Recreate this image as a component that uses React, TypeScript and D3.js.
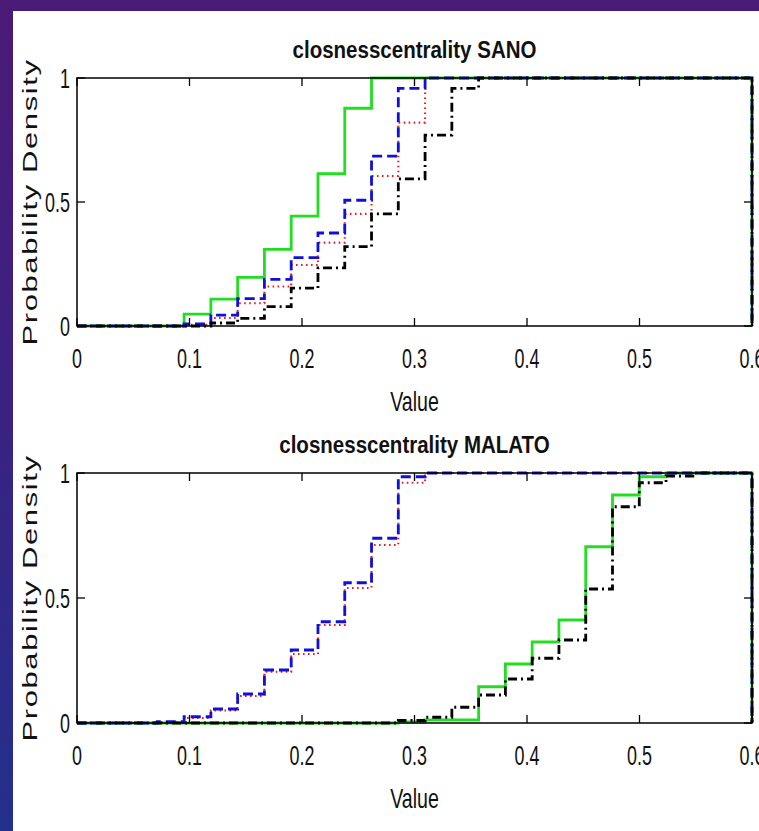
import React from "react";
import * as d3 from "d3";

// Histogram bin edges shared by every cumulative curve
const binEdges = [
  0, 0.0238, 0.0476, 0.0714, 0.0952, 0.119, 0.1428, 0.1666, 0.1904, 0.2142,
  0.238, 0.2618, 0.2856, 0.3094, 0.3332, 0.357, 0.3808, 0.4046, 0.4284,
  0.4522, 0.476, 0.4998, 0.5236, 0.5474, 0.5712, 0.6,
];

// SANO group: cumulative value per bin
const sanoGreen = [0, 0, 0, 0, 0.048, 0.108, 0.196, 0.309, 0.443, 0.614, 0.878, 1, 1, 1, 1, 1, 1, 1, 1, 1, 1, 1, 1, 1, 1];
const sanoBlue = [0, 0, 0, 0, 0.008, 0.044, 0.11, 0.188, 0.276, 0.375, 0.507, 0.685, 0.958, 1, 1, 1, 1, 1, 1, 1, 1, 1, 1, 1, 1];
const sanoRed = [0, 0, 0, 0, 0.005, 0.032, 0.092, 0.159, 0.246, 0.336, 0.452, 0.605, 0.82, 1, 1, 1, 1, 1, 1, 1, 1, 1, 1, 1, 1];
const sanoBlack = [0, 0, 0, 0, 0, 0.012, 0.031, 0.078, 0.153, 0.234, 0.32, 0.452, 0.593, 0.77, 0.958, 1, 1, 1, 1, 1, 1, 1, 1, 1, 1];

// MALATO group
const malatoGreen = [0, 0, 0, 0, 0, 0, 0, 0, 0, 0, 0, 0, 0.004, 0.012, 0.012, 0.145, 0.236, 0.324, 0.412, 0.705, 0.912, 0.985, 1, 1, 1];
const malatoBlue = [0, 0, 0, 0.005, 0.025, 0.056, 0.116, 0.212, 0.292, 0.405, 0.561, 0.739, 0.985, 1, 1, 1, 1, 1, 1, 1, 1, 1, 1, 1, 1];
const malatoRed = [0, 0, 0, 0.003, 0.02, 0.05, 0.108, 0.205, 0.276, 0.392, 0.54, 0.712, 0.961, 1, 1, 1, 1, 1, 1, 1, 1, 1, 1, 1, 1];
const malatoBlack = [0, 0, 0, 0, 0, 0, 0, 0, 0, 0, 0, 0, 0.01, 0.023, 0.063, 0.112, 0.176, 0.259, 0.332, 0.536, 0.865, 0.961, 0.988, 1, 1];

const xTicks = [0, 0.1, 0.2, 0.3, 0.4, 0.5, 0.6];
const xTickLabels = ["0", "0.1", "0.2", "0.3", "0.4", "0.5", "0.6"];
const yTicks = [0, 0.5, 1];
const yTickLabels = ["0", "0.5", "1"];

const panels = [
  { title: "closnesscentrality SANO", green: sanoGreen, blue: sanoBlue, red: sanoRed, black: sanoBlack, top: 78, bottom: 326 },
  { title: "closnesscentrality MALATO", green: malatoGreen, blue: malatoBlue, red: malatoRed, black: malatoBlack, top: 473, bottom: 723 },
];

const W = 759;
const H = 831;
const LEFT = 77;
const RIGHT = 752;
const FONT = "'Liberation Sans', Arial, Helvetica, sans-serif";

type Style = { color: string; dash: string | null; width: number };
const seriesStyles: { key: "green" | "red" | "blue" | "black"; style: Style }[] = [
  { key: "green", style: { color: "#22dd22", dash: null, width: 2.8 } },
  { key: "red", style: { color: "#e32020", dash: "1.6,3.4", width: 2.1 } },
  { key: "blue", style: { color: "#1010d8", dash: "10,5", width: 2.8 } },
  { key: "black", style: { color: "#000000", dash: "9,4,2,4", width: 2.8 } },
];

function SText(props: {
  x: number; y: number; sx: number; size: number; anchor: string; weight?: string; rotate?: number; children: string; spacing?: number;
}) {
  const { x, y, sx, size, anchor, weight, rotate, children, spacing } = props;
  const tr = `translate(${x},${y}) scale(${sx},1)` + (rotate ? ` rotate(${rotate})` : "");
  return (
    <text
      transform={tr}
      fontSize={size}
      fontFamily={FONT}
      fontWeight={weight || "normal"}
      textAnchor={anchor}
      fill="#111"
      letterSpacing={spacing || 0}
    >
      {children}
    </text>
  );
}

function Panel({ p }: { p: (typeof panels)[number] }) {
  const x = d3.scaleLinear().domain([0, 0.6]).range([LEFT, RIGHT]);
  const y = d3.scaleLinear().domain([0, 1]).range([p.bottom, p.top]);
  const line = d3
    .line<[number, number]>()
    .x((d) => x(d[0]))
    .y((d) => y(d[1]))
    .curve(d3.curveStepAfter);

  const pathFor = (vals: number[]) => {
    const pts: [number, number][] = vals.map((v, i) => [binEdges[i], v]);
    pts.push([binEdges[binEdges.length - 1], vals[vals.length - 1]]);
    pts.push([binEdges[binEdges.length - 1], 0]);
    return line(pts) || "";
  };

  const tickLen = 8;
  const cx = (LEFT + RIGHT) / 2;
  const cy = (p.top + p.bottom) / 2;

  return (
    <g>
      {seriesStyles.map((s) => (
        <path
          key={s.key}
          d={pathFor(p[s.key])}
          fill="none"
          stroke={s.style.color}
          strokeWidth={s.style.width}
          strokeDasharray={s.style.dash || undefined}
        />
      ))}
      <rect x={LEFT} y={p.top} width={RIGHT - LEFT} height={p.bottom - p.top} fill="none" stroke="#000" strokeWidth={1.5} />
      {xTicks.map((t, i) => (
        <g key={"x" + i}>
          <line x1={x(t)} x2={x(t)} y1={p.bottom} y2={p.bottom - tickLen} stroke="#000" strokeWidth={1.3} />
          <line x1={x(t)} x2={x(t)} y1={p.top} y2={p.top + tickLen} stroke="#000" strokeWidth={1.3} />
          <SText x={x(t)} y={p.bottom + 42} sx={0.64} size={28} anchor="middle">
            {xTickLabels[i]}
          </SText>
        </g>
      ))}
      {yTicks.map((t, i) => (
        <g key={"y" + i}>
          <line x1={LEFT} x2={LEFT + tickLen} y1={y(t)} y2={y(t)} stroke="#000" strokeWidth={1.3} />
          <line x1={RIGHT} x2={RIGHT - tickLen} y1={y(t)} y2={y(t)} stroke="#000" strokeWidth={1.3} />
          <SText x={70} y={y(t) + 10} sx={0.64} size={28} anchor="end">
            {yTickLabels[i]}
          </SText>
        </g>
      ))}
      <SText x={cx} y={p.top - 20} sx={0.855} size={24} anchor="middle" weight="bold">
        {p.title}
      </SText>
      <SText x={cx} y={p.bottom + 85} sx={0.7} size={28} anchor="middle">
        Value
      </SText>
      <SText x={37} y={cy} sx={0.68} size={31} anchor="middle" rotate={-90} spacing={1.6}>
        Probability Density
      </SText>
    </g>
  );
}

export default function App() {
  return (
    <svg
      width={W}
      height={H}
      viewBox={`0 0 ${W} ${H}`}
      style={{ position: "absolute", left: 0, top: 0, display: "block" }}
    >
      <defs>
        <linearGradient id="slideBg" x1="0" y1="0" x2="0" y2="1">
          <stop offset="0" stopColor="#4a1a76" />
          <stop offset="0.5" stopColor="#3a2282" />
          <stop offset="1" stopColor="#23308c" />
        </linearGradient>
      </defs>
      <rect x={0} y={0} width={W} height={H} fill="url(#slideBg)" />
      <rect x={13} y={11} width={W - 13} height={H - 11} fill="#ffffff" />
      {panels.map((p) => (
        <Panel key={p.title} p={p} />
      ))}
    </svg>
  );
}
